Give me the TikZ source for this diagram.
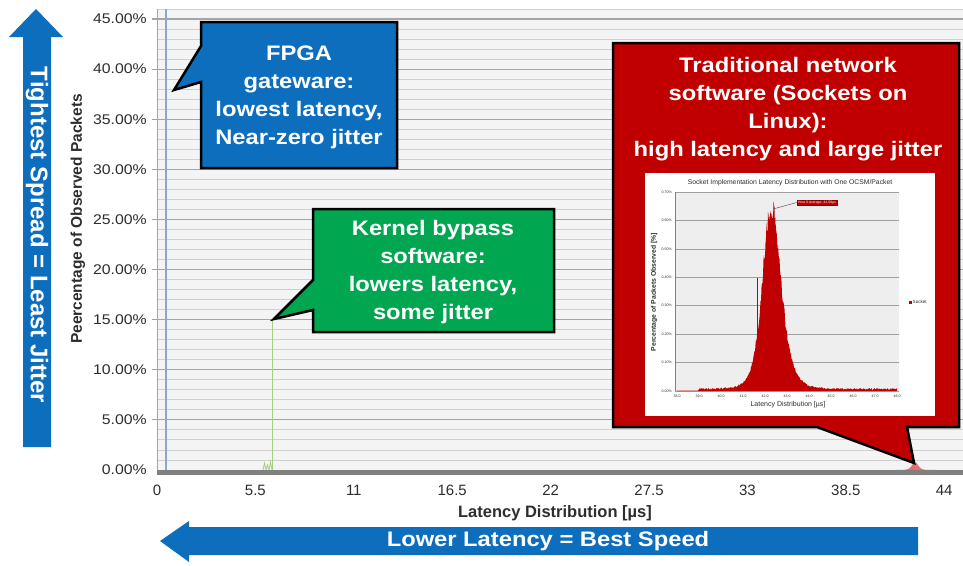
\documentclass[tikz,border=0pt]{standalone}
\usepackage{fontspec}
\setmainfont{Liberation Sans}
\newfontfamily\widefont[FakeStretch=1.13]{Liberation Sans}

\definecolor{slideblue}{RGB}{14,110,190}
\definecolor{slidegreen}{RGB}{0,166,80}
\definecolor{slidered}{RGB}{192,0,0}
\definecolor{gridmajor}{RGB}{165,165,165}
\definecolor{gridminor}{RGB}{208,208,208}
\definecolor{plotbg}{RGB}{244,244,244}
\definecolor{axisgray}{RGB}{128,128,128}
\definecolor{axistext}{RGB}{45,45,45}
\definecolor{fpgaline}{RGB}{145,165,205}
\definecolor{kbline}{RGB}{168,206,128}
\definecolor{humpred}{RGB}{226,112,112}
\definecolor{insetbg}{RGB}{238,238,238}

\begin{document}
\begin{tikzpicture}[x=1pt,y=-1pt,
  calltext/.style={text=white, align=center, inner sep=0pt,
    font=\widefont\bfseries\fontsize{21}{28}\selectfont},
  callbox/.style={draw=black, line width=2.5pt, line join=miter},
  ytick/.style={anchor=east, text=axistext, inner sep=0pt,
    font=\widefont\fontsize{14}{16}\selectfont},
  xtick/.style={text=axistext, inner sep=0pt, font=\fontsize{15}{17}\selectfont},
  itick/.style={text=axistext, inner sep=0pt, font=\fontsize{3.6}{4}\selectfont},
  declare function={
    iw(\t) = (\t<771) ? 19.5 : 23;
    iu(\t) = (\t-771)/iw(\t);
    iq(\t) = 1/(1+iu(\t)*iu(\t));
    ipk(\t) = 183*iq(\t)*iq(\t)*iq(\t);
    hu(\t) = (\t-915)/7;
    hq(\t) = 1/(1+hu(\t)*hu(\t));
  }]
\useasboundingbox (0,0) rectangle (963,565);
\fill[white] (0,0) rectangle (963,565);

% ---------- main chart: plot area and grid ----------
\fill[plotbg] (157,9) rectangle (963,470);
\foreach \k in {1,...,46}
  \draw[gridminor, line width=0.9pt] (157,{470-\k*10.022}) -- (963,{470-\k*10.022});
\foreach \k in {1,...,9}
  \draw[gridmajor, line width=1.2pt] (152,{470-\k*50.11}) -- (963,{470-\k*50.11});
\draw[gridmajor, line width=1pt] (157,9) -- (157,470);

% data series
\draw[fpgaline, line width=1.4pt] (166,470) -- (166,9);
\draw[kbline, line width=1.1pt] (272.7,470) -- (272.7,319.7);
\draw[kbline, line width=0.8pt] (263,470) -- (264.5,463) -- (266,470) -- (267.5,465) -- (269,470)
  -- (270.5,462) -- (272,470);
\fill[humpred] (895,470) -- plot[domain=895:937, samples=60] (\x,{470-8*hq(\x)*hq(\x)*hq(\x)}) -- (937,470) -- cycle;
\draw[axisgray, line width=5pt] (157,472.5) -- (963,472.5);

% axis tick labels
\foreach \k/\t in {0/0.00,1/5.00,2/10.00,3/15.00,4/20.00,5/25.00,6/30.00,7/35.00,8/40.00,9/45.00}
  \node[ytick] (yl\k) at (147,{470-\k*50.11}) {\t\%};
\foreach \k/\t in {0/0,1/5.5,2/11,3/16.5,4/22,5/27.5,6/33,7/38.5,8/44}
  \node[xtick] (xl\k) at ({157+\k*98.4},490) {\t};
\node[text=axistext, font=\bfseries\fontsize{16.5}{18}\selectfont] (xtitle) at (555,513)
  {Latency Distribution [µs]};
\node[rotate=90, text=axistext, font=\bfseries\fontsize{15.5}{18}\selectfont] (ytitle) at (78,219)
  {Peercentage of Observed Packets};

% ---------- callouts ----------
\draw[callbox, fill=slideblue] (201,22) -- (397,22) -- (397,168) -- (201,168) -- (201,82)
  -- (174,90) -- (201,46) -- cycle;
\node[calltext] (fpga) at (299,97) {FPGA\\gateware:\\lowest latency,\\Near-zero jitter};

\draw[callbox, fill=slidegreen] (313,209) -- (554,209) -- (554,332) -- (313,332) -- (313,310)
  -- (274,319) -- (313,280) -- cycle;
\node[calltext] (kbypass) at (433,272) {Kernel bypass\\software:\\lowers latency,\\some jitter};

\draw[callbox, fill=slidered] (613,43) -- (959,43) -- (959,427) -- (907,427) -- (914,463)
  -- (817,427) -- (613,427) -- cycle;
\node[calltext] (sockets) at (788,109)
  {Traditional network\\software (Sockets on\\Linux):\\high latency and large jitter};

% ---------- inset chart ----------
\fill[white] (645,173) rectangle (935,416);
\fill[insetbg] (675,192) rectangle (899,391);
\foreach \k in {0,...,7}
  \draw[gray!75, line width=0.5pt] (675,{391-\k*28.43}) -- (899,{391-\k*28.43});
\draw[gray, line width=0.5pt] (675,192) -- (675,391);
\foreach \k/\t in {0/0.00,1/0.10,2/0.20,3/0.30,4/0.40,5/0.50,6/0.60,7/0.70}
  \node[itick, anchor=east] (iy\k) at (672,{391-\k*28.43}) {\t\%};
\foreach \k/\t in {0/38.0,1/39.0,2/40.0,3/41.0,4/42.0,5/43.0,6/44.0,7/45.0,8/46.0,9/47.0,10/48.0}
  \node[itick] (ix\k) at ({677+\k*22},396.5) {\t};

\pgfmathsetseed{7}
\fill[slidered] (677,391) -- plot[domain=677:897, samples=441]
  (\x,{391-max(0.3, ipk(\x)*(1+0.07*rand) + (\x>698)*(1.6+1.0*rand) + 0.4)}) -- (897,391) -- cycle;
\draw[slidered, line width=0.7pt] (757,391) -- (757,278);

\coordinate (peak) at (773,209);
\node[fill=slidered, draw=slidered!70!black, line width=0.4pt, text=white, inner sep=1.2pt,
  font=\fontsize{3.4}{4}\selectfont] (avg) at (817,202.5) {Host 0 Average: 41.58µs};
\draw[gray!70!black, line width=0.5pt] (peak) -- (avg.west);

\node[text=axistext, font=\fontsize{6.8}{8}\selectfont] (ititle) at (790,183)
  {Socket Implementation Latency Distribution with One OCSM/Packet};
\node[text=axistext, font=\fontsize{7}{8}\selectfont] (ixtitle) at (788,405)
  {Latency Distribution [µs]};
\node[rotate=90, text=axistext, font=\bfseries\fontsize{6.8}{8}\selectfont] (iytitle) at (654,292)
  {Percentage of Packets Observed [\%]};
\fill[slidered] (909,300.5) rectangle (912,303.5);
\node[anchor=west, inner sep=0.5pt, text=axistext, font=\fontsize{4.6}{5}\selectfont] (legend) at (912,302)
  {Socket};

% ---------- block arrows ----------
\fill[slideblue] (36,9) -- (63,37) -- (51,37) -- (51,447) -- (23,447) -- (23,37) -- (9,37) -- cycle;
\node[rotate=-90, text=white, font=\bfseries\fontsize{24}{28}\selectfont] (spread) at (37,235)
  {Tightest Spread = Least Jitter};

\fill[slideblue] (160,541) -- (189,521) -- (189,527) -- (918,527) -- (918,555) -- (189,555)
  -- (189,562) -- cycle;
\node[text=white, font=\widefont\bfseries\fontsize{21}{24}\selectfont] (speed) at (548,541)
  {Lower Latency = Best Speed};
\end{tikzpicture}
\end{document}
